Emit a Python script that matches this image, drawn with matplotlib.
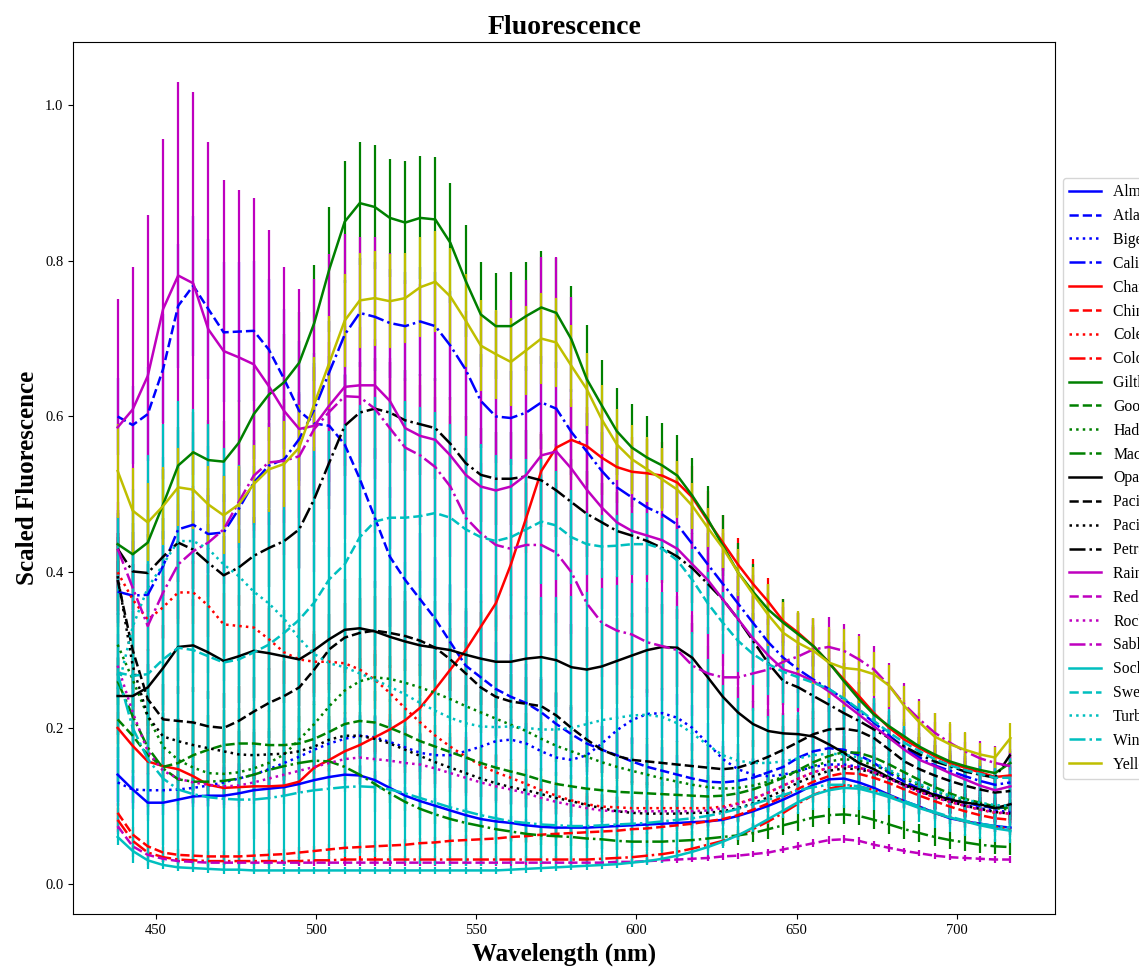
import numpy as np
import matplotlib
matplotlib.use("Agg")
import matplotlib.pyplot as plt

plt.rcParams['font.family'] = ['Liberation Serif', 'DejaVu Serif']

# wavelengths (nm)
wl = [438.0, 442.7, 447.4, 452.2, 456.9, 461.6, 466.3, 471.1, 475.8, 480.5,
      485.2, 490.0, 494.7, 499.4, 504.1, 508.9, 513.6, 518.3, 523.0, 527.8,
      532.5, 537.2, 541.9, 546.7, 551.4, 556.1, 560.8, 565.6, 570.3, 575.0,
      579.7, 584.5, 589.2, 593.9, 598.6, 603.4, 608.1, 612.8, 617.5, 622.3,
      627.0, 631.7, 636.4, 641.2, 645.9, 650.6, 655.3, 660.1, 664.8, 669.5,
      674.2, 679.0, 683.7, 688.4, 693.1, 697.9, 702.6, 707.3, 712.0, 716.8]

names = ['Almaco Jack', 'Atlantic Salmon', 'Bigeye Tuna', 'California Halibut',
         'Channel Catfish', 'Chinook Salmon', 'Coley', 'Colorado Trout',
         'Gilthead Bream', 'Goosefish', 'Haddock', 'Mackerel',
         'Opah', 'Pacific Cod', 'Pacific Halibut', 'Petrale Sole',
         'Rainbow Trout', 'Red Snapper', 'Rockfish', 'Sablefish',
         'Sockeye Salmon', 'Sweetlips', 'Turbot', 'Winter Flounder', 'Yellowfin Tuna']

alm = [.140,.121,.104,.104,.108,.112,.113,.113,.116,.120,
       .122,.124,.128,.133,.137,.140,.139,.133,.123,.113,
       .106,.100,.094,.088,.083,.080,.078,.075,.073,.072,
       .072,.072,.073,.074,.075,.076,.077,.078,.079,.080,
       .082,.087,.093,.100,.108,.117,.127,.134,.135,.130,
       .123,.114,.106,.099,.091,.084,.080,.077,.074,.072]
alm_err = [.035,.017,.016,.016,.015,.014,.013,.012,.012,.012,
           .012,.012,.012,.012,.012,.012,.012,.012,.011,.011,
           .010,.010,.010,.009,.009,.009,.009,.008,.008,.008,
           .008,.008,.008,.008,.008,.008,.008,.008,.008,.008,
           .008,.008,.009,.009,.010,.010,.011,.011,.011,.011,
           .010,.010,.009,.009,.008,.008,.008,.007,.007,.007]

atl = [.600,.589,.603,.661,.742,.768,.738,.708,.709,.710,
       .686,.648,.607,.591,.588,.564,.520,.470,.420,.390,
       .365,.340,.310,.280,.265,.250,.240,.232,.220,.205,
       .192,.180,.172,.165,.157,.150,.145,.140,.135,.131,
       .130,.132,.136,.143,.150,.162,.170,.174,.172,.165,
       .155,.142,.131,.122,.115,.109,.104,.100,.097,.098]
atl_err = [.050,.050,.060,.070,.080,.090,.090,.090,.090,.090,
           .090,.090,.090,.090,.090,.090,.090,.090,.090,.090,
           .085,.080,.075,.070,.065,.060,.055,.050,.045,.040,
           .035,.030,.030,.030,.030,.030,.030,.025,.025,.025,
           .025,.025,.025,.025,.025,.025,.025,.025,.025,.025,
           .020,.020,.020,.020,.020,.020,.020,.020,.020,.020]

big = [.130,.121,.120,.120,.121,.123,.126,.130,.135,.140,
       .147,.155,.163,.172,.180,.186,.190,.188,.182,.175,
       .168,.165,.165,.170,.176,.183,.185,.180,.170,.162,
       .159,.165,.180,.197,.210,.218,.219,.213,.200,.180,
       .160,.147,.140,.138,.140,.145,.150,.153,.153,.150,
       .143,.135,.126,.118,.112,.106,.101,.097,.094,.092]
big_err = [.030,.025,.022,.020,.020,.020,.020,.020,.020,.021,
           .022,.023,.024,.025,.026,.027,.027,.027,.026,.025,
           .024,.024,.024,.025,.026,.027,.027,.026,.025,.024,
           .024,.025,.027,.029,.031,.032,.032,.031,.029,.026,
           .023,.021,.020,.019,.020,.020,.021,.021,.021,.021,
           .020,.019,.018,.017,.016,.015,.014,.014,.013,.013]

cal = [.375,.370,.371,.408,.455,.461,.449,.451,.481,.515,
       .537,.545,.571,.609,.657,.705,.733,.728,.720,.716,
       .722,.716,.691,.660,.620,.600,.598,.605,.618,.610,
       .580,.555,.530,.509,.496,.483,.474,.461,.436,.410,
       .385,.360,.335,.310,.290,.275,.262,.250,.237,.222,
       .207,.190,.175,.162,.152,.145,.138,.132,.127,.130]
cal_err = [.040,.040,.040,.045,.050,.050,.050,.050,.050,.055,
           .055,.055,.060,.060,.065,.070,.070,.070,.070,.070,
           .070,.070,.070,.065,.060,.060,.060,.060,.060,.060,
           .055,.050,.050,.050,.045,.045,.045,.045,.040,.040,
           .040,.035,.035,.030,.030,.030,.030,.030,.025,.025,
           .025,.020,.020,.020,.020,.020,.020,.020,.020,.020]

cha = [.200,.177,.157,.151,.147,.138,.127,.123,.124,.125,
       .125,.126,.131,.149,.159,.170,.178,.188,.198,.210,
       .226,.250,.275,.300,.330,.360,.410,.470,.530,.560,
       .570,.562,.547,.535,.529,.527,.524,.515,.496,.466,
       .438,.410,.385,.362,.337,.322,.305,.284,.262,.241,
       .219,.200,.185,.174,.164,.155,.149,.143,.137,.139]
cha_err = [.020,.018,.016,.015,.015,.014,.013,.013,.013,.013,
           .013,.013,.014,.015,.016,.017,.018,.019,.020,.021,
           .023,.025,.028,.030,.033,.036,.040,.045,.050,.052,
           .052,.050,.048,.046,.045,.044,.043,.042,.040,.038,
           .036,.034,.032,.030,.028,.026,.025,.023,.021,.020,
           .018,.017,.016,.015,.014,.013,.013,.012,.012,.012]

chi = [.091,.063,.048,.040,.037,.036,.035,.035,.035,.036,
       .037,.038,.040,.042,.044,.046,.047,.048,.049,.050,
       .052,.053,.055,.056,.057,.058,.060,.061,.063,.064,
       .065,.066,.067,.068,.070,.071,.073,.075,.077,.080,
       .083,.088,.095,.103,.112,.122,.131,.138,.142,.141,
       .136,.129,.121,.113,.106,.099,.093,.088,.084,.082]
chi_err = [.012,.010,.008,.007,.007,.007,.007,.007,.007,.007,
           .007,.007,.007,.007,.007,.007,.007,.007,.007,.007,
           .007,.007,.007,.007,.007,.007,.007,.007,.007,.007,
           .007,.007,.007,.007,.007,.007,.007,.007,.007,.007,
           .007,.007,.008,.008,.008,.009,.009,.009,.009,.009,
           .009,.008,.008,.008,.007,.007,.007,.007,.006,.006]

col1 = [.400,.365,.339,.355,.374,.374,.357,.333,.331,.329,
        .314,.297,.288,.285,.285,.283,.275,.262,.245,.225,
        .207,.190,.176,.163,.152,.143,.136,.128,.120,.113,
        .107,.102,.099,.098,.097,.097,.097,.097,.097,.097,
        .099,.103,.109,.117,.126,.135,.143,.149,.151,.149,
        .143,.135,.126,.118,.111,.105,.100,.095,.091,.090]
col1_err = [.050,.045,.040,.040,.040,.040,.040,.040,.040,.040,
            .040,.040,.040,.040,.040,.040,.040,.038,.036,.034,
            .032,.030,.028,.026,.024,.022,.020,.019,.018,.017,
            .016,.015,.015,.015,.015,.015,.015,.015,.015,.015,
            .015,.015,.016,.017,.018,.019,.020,.020,.020,.020,
            .019,.018,.017,.016,.015,.014,.013,.013,.012,.012]

col2 = [.082,.055,.040,.034,.031,.030,.029,.029,.029,.029,
        .029,.029,.029,.030,.030,.031,.031,.031,.031,.031,
        .031,.031,.031,.031,.031,.031,.031,.031,.031,.031,
        .031,.031,.032,.033,.034,.036,.038,.041,.045,.050,
        .055,.062,.070,.080,.091,.103,.114,.122,.126,.125,
        .120,.113,.105,.098,.091,.085,.080,.076,.073,.070]
col2_err = [.015,.010,.007,.006,.006,.005,.005,.005,.005,.005,
            .005,.005,.005,.005,.005,.005,.005,.005,.005,.005,
            .005,.005,.005,.005,.005,.005,.005,.005,.005,.005,
            .005,.005,.005,.005,.005,.005,.005,.006,.006,.006,
            .007,.007,.008,.008,.009,.009,.010,.010,.010,.010,
            .010,.009,.009,.008,.008,.008,.007,.007,.007,.007]

gilt = [.436,.423,.438,.487,.537,.554,.544,.542,.566,.603,
        .628,.644,.669,.720,.789,.850,.874,.869,.855,.849,
        .855,.853,.823,.774,.731,.716,.716,.729,.740,.733,
        .699,.648,.614,.581,.560,.547,.537,.524,.498,.468,
        .434,.400,.375,.352,.335,.320,.305,.284,.260,.237,
        .217,.202,.189,.176,.166,.157,.151,.146,.142,.155]
gilt_err = [.040,.040,.042,.045,.050,.052,.052,.052,.055,.058,
            .060,.062,.065,.075,.080,.078,.079,.080,.076,.079,
            .079,.080,.077,.072,.067,.068,.069,.070,.072,.071,
            .068,.070,.058,.056,.056,.054,.054,.052,.049,.043,
            .039,.038,.035,.033,.030,.028,.027,.026,.024,.022,
            .021,.020,.019,.018,.017,.016,.016,.015,.015,.016]

goo = [.211,.190,.165,.150,.155,.165,.172,.178,.180,.180,
       .178,.178,.180,.186,.195,.205,.209,.207,.200,.192,
       .183,.176,.169,.162,.155,.149,.144,.139,.133,.128,
       .125,.122,.120,.118,.117,.116,.115,.114,.113,.112,
       .113,.116,.121,.128,.136,.146,.156,.164,.169,.168,
       .162,.153,.143,.133,.124,.116,.109,.104,.099,.097]
goo_err = [.050,.048,.046,.045,.045,.045,.045,.045,.045,.045,
           .045,.045,.045,.045,.045,.044,.042,.040,.037,.034,
           .031,.028,.025,.022,.020,.018,.016,.015,.015,.015,
           .015,.015,.015,.015,.015,.015,.015,.015,.015,.015,
           .015,.015,.015,.015,.015,.015,.015,.015,.015,.015,
           .015,.014,.014,.013,.013,.012,.012,.012,.012,.012]

had = [.307,.262,.215,.176,.159,.149,.142,.141,.143,.148,
       .155,.166,.185,.205,.228,.248,.260,.265,.263,.258,
       .252,.245,.237,.228,.220,.212,.204,.196,.186,.177,
       .170,.163,.156,.150,.145,.140,.135,.131,.127,.124,
       .122,.123,.126,.131,.137,.144,.151,.157,.160,.158,
       .152,.144,.135,.126,.119,.112,.106,.101,.097,.095]
had_err = [.040,.035,.030,.030,.030,.030,.030,.030,.030,.030,
           .030,.030,.030,.030,.030,.030,.030,.030,.030,.030,
           .030,.030,.028,.027,.026,.025,.024,.023,.022,.021,
           .020,.020,.019,.018,.018,.017,.017,.016,.016,.016,
           .016,.016,.016,.016,.017,.017,.018,.018,.018,.018,
           .017,.017,.016,.015,.015,.014,.014,.013,.013,.013]

ma = [.260,.215,.175,.148,.134,.131,.131,.132,.135,.140,
      .146,.151,.155,.158,.157,.150,.140,.128,.116,.105,
      .096,.089,.083,.078,.074,.070,.067,.064,.062,.061,
      .060,.058,.057,.055,.054,.054,.054,.055,.056,.058,
      .060,.062,.065,.070,.075,.080,.085,.088,.089,.087,
      .082,.076,.070,.065,.060,.056,.053,.050,.048,.047]
ma_err = [.030,.025,.020,.015,.013,.012,.012,.012,.012,.012,
          .012,.012,.012,.012,.012,.012,.012,.012,.012,.012,
          .012,.012,.012,.012,.012,.012,.012,.012,.012,.012,
          .012,.012,.012,.012,.012,.012,.012,.012,.012,.012,
          .012,.012,.012,.012,.012,.012,.012,.012,.012,.012,
          .012,.012,.012,.011,.011,.011,.011,.010,.010,.010]

opa = [.241,.241,.252,.277,.304,.306,.297,.286,.292,.299,
       .296,.292,.288,.300,.314,.326,.328,.324,.317,.311,
       .306,.303,.300,.294,.289,.285,.285,.289,.291,.287,
       .278,.275,.279,.286,.293,.300,.304,.303,.290,.265,
       .240,.220,.205,.196,.193,.192,.189,.179,.168,.155,
       .147,.136,.127,.121,.114,.108,.104,.102,.097,.102]
opa_err = [.050,.050,.050,.055,.060,.060,.060,.060,.060,.060,
           .060,.060,.060,.060,.065,.065,.065,.065,.065,.065,
           .065,.060,.060,.060,.060,.060,.060,.060,.060,.060,
           .055,.055,.055,.055,.055,.055,.055,.050,.045,.040,
           .035,.032,.030,.028,.026,.025,.024,.023,.022,.021,
           .020,.020,.019,.019,.018,.018,.018,.018,.018,.020]

pac = [.390,.300,.237,.211,.209,.207,.202,.200,.209,.221,
       .232,.241,.252,.275,.301,.316,.322,.325,.322,.318,
       .312,.303,.288,.270,.252,.240,.234,.231,.228,.216,
       .200,.185,.172,.164,.159,.157,.155,.153,.151,.149,
       .147,.149,.155,.163,.172,.182,.192,.198,.199,.196,
       .187,.172,.157,.147,.139,.132,.126,.121,.117,.119]
pac_err = [.060,.050,.045,.045,.045,.045,.045,.045,.045,.045,
           .045,.045,.045,.045,.045,.045,.045,.045,.045,.045,
           .045,.040,.040,.040,.035,.035,.035,.035,.035,.030,
           .030,.030,.030,.030,.030,.030,.030,.030,.030,.030,
           .030,.030,.030,.030,.030,.030,.030,.030,.030,.030,
           .025,.025,.020,.020,.020,.020,.020,.020,.020,.020]

pac2 = [.395,.280,.215,.189,.183,.178,.174,.170,.166,.165,
        .166,.167,.170,.176,.185,.190,.190,.186,.180,.172,
        .164,.156,.149,.142,.135,.129,.124,.120,.115,.110,
        .106,.101,.097,.093,.091,.090,.090,.090,.091,.091,
        .093,.097,.103,.111,.120,.130,.138,.145,.148,.147,
        .142,.135,.127,.119,.112,.106,.100,.096,.092,.090]
pac2_err = [.050,.040,.030,.030,.030,.030,.030,.030,.030,.030,
            .030,.030,.030,.030,.030,.030,.030,.030,.030,.030,
            .030,.028,.026,.025,.024,.023,.022,.021,.020,.020,
            .020,.019,.018,.018,.017,.017,.017,.017,.017,.017,
            .017,.018,.018,.019,.020,.021,.022,.022,.022,.022,
            .021,.020,.019,.018,.017,.016,.016,.015,.015,.015]

petr = [.430,.401,.399,.420,.438,.429,.412,.396,.406,.421,
        .431,.440,.455,.494,.541,.588,.605,.610,.605,.595,
        .590,.585,.565,.540,.525,.520,.520,.523,.518,.505,
        .490,.475,.464,.453,.447,.440,.431,.420,.405,.385,
        .365,.340,.312,.283,.260,.252,.241,.230,.219,.209,
        .198,.187,.176,.166,.157,.151,.144,.140,.136,.166]
petr_err = [.050,.050,.050,.050,.050,.050,.050,.050,.050,.050,
            .050,.050,.050,.055,.060,.065,.065,.065,.065,.065,
            .065,.065,.060,.060,.060,.060,.060,.060,.060,.060,
            .055,.055,.050,.050,.050,.050,.045,.045,.045,.040,
            .040,.035,.035,.030,.030,.030,.030,.028,.027,.026,
            .025,.024,.023,.022,.021,.020,.020,.019,.019,.020]

rai = [.586,.609,.652,.738,.781,.771,.712,.684,.676,.667,
       .639,.607,.584,.588,.614,.638,.640,.640,.620,.585,
       .575,.570,.550,.525,.510,.505,.510,.525,.550,.555,
       .533,.506,.483,.464,.453,.447,.441,.430,.410,.390,
       .365,.340,.315,.293,.275,.269,.260,.247,.232,.217,
       .202,.187,.172,.159,.151,.142,.134,.126,.120,.125]
rai_err = [.165,.183,.207,.218,.249,.246,.241,.220,.215,.214,
           .201,.185,.180,.188,.194,.196,.190,.190,.190,.190,
           .195,.200,.205,.210,.220,.230,.240,.250,.255,.250,
           .220,.150,.130,.120,.110,.100,.095,.090,.090,.085,
           .085,.085,.082,.080,.080,.080,.080,.080,.078,.075,
           .072,.068,.064,.060,.056,.052,.048,.045,.042,.040]

red = [.074,.048,.037,.032,.029,.028,.027,.027,.027,.027,
       .027,.027,.027,.027,.027,.027,.027,.027,.027,.027,
       .027,.027,.027,.027,.027,.027,.027,.027,.027,.027,
       .027,.027,.027,.028,.028,.029,.030,.031,.032,.033,
       .035,.036,.038,.040,.044,.048,.052,.056,.057,.055,
       .050,.046,.042,.039,.036,.034,.033,.032,.031,.031]
red_err = [.010,.006,.005,.004,.004,.004,.004,.004,.004,.004,
           .004,.004,.004,.004,.004,.004,.004,.004,.004,.004,
           .004,.004,.004,.004,.004,.004,.004,.004,.004,.004,
           .004,.004,.004,.004,.004,.004,.004,.004,.004,.004,
           .004,.004,.004,.004,.004,.005,.005,.005,.005,.005,
           .005,.005,.004,.004,.004,.004,.004,.004,.004,.004]

roc = [.280,.220,.170,.145,.135,.130,.127,.125,.126,.130,
       .135,.140,.145,.150,.155,.160,.162,.160,.158,.155,
       .153,.148,.142,.136,.130,.125,.121,.116,.110,.105,
       .101,.097,.094,.093,.093,.093,.093,.093,.093,.094,
       .097,.102,.109,.117,.126,.135,.143,.149,.151,.149,
       .143,.135,.126,.118,.111,.105,.100,.095,.092,.090]
roc_err = [.040,.035,.030,.028,.028,.028,.028,.028,.028,.028,
           .028,.028,.028,.028,.028,.028,.028,.028,.028,.027,
           .026,.025,.024,.023,.022,.021,.020,.019,.018,.017,
           .016,.016,.015,.015,.015,.015,.015,.015,.015,.015,
           .015,.016,.016,.017,.018,.019,.020,.020,.020,.020,
           .019,.018,.017,.016,.015,.014,.014,.013,.013,.013]

sab = [.430,.380,.331,.374,.410,.427,.438,.455,.490,.524,
       .541,.543,.549,.584,.606,.626,.625,.610,.585,.560,
       .550,.535,.510,.470,.450,.435,.430,.435,.435,.425,
       .400,.360,.335,.325,.320,.310,.305,.300,.280,.270,
       .265,.265,.270,.275,.285,.292,.301,.304,.299,.288,
       .275,.254,.230,.211,.194,.181,.170,.161,.155,.151]
sab_err = [.060,.060,.060,.060,.070,.070,.070,.070,.080,.080,
           .080,.080,.080,.080,.090,.090,.090,.090,.090,.090,
           .090,.090,.090,.090,.090,.090,.090,.090,.090,.090,
           .080,.080,.070,.070,.070,.070,.070,.070,.065,.060,
           .055,.050,.048,.045,.042,.040,.040,.038,.035,.032,
           .030,.030,.028,.026,.025,.024,.023,.022,.022,.022]

soc = [.060,.042,.030,.024,.021,.020,.019,.018,.018,.017,
       .017,.017,.017,.017,.017,.017,.017,.017,.017,.017,
       .017,.017,.017,.017,.017,.017,.018,.019,.020,.021,
       .022,.023,.024,.025,.027,.029,.032,.036,.041,.047,
       .054,.062,.072,.083,.094,.105,.114,.120,.123,.122,
       .117,.111,.104,.097,.091,.085,.080,.075,.071,.068]
soc_err = [.010,.008,.006,.005,.005,.005,.005,.005,.005,.005,
           .005,.005,.005,.005,.005,.005,.005,.005,.005,.005,
           .005,.005,.005,.005,.005,.005,.005,.005,.005,.005,
           .005,.005,.005,.005,.005,.005,.005,.005,.005,.005,
           .005,.005,.006,.006,.006,.007,.007,.007,.007,.007,
           .007,.006,.006,.006,.006,.005,.005,.005,.005,.005]

swe = [.271,.267,.269,.288,.303,.300,.292,.284,.288,.297,
       .307,.322,.339,.361,.391,.410,.445,.465,.470,.470,
       .472,.476,.470,.455,.445,.440,.445,.455,.465,.460,
       .445,.436,.433,.434,.436,.436,.430,.415,.390,.360,
       .335,.312,.295,.282,.272,.265,.258,.250,.238,.224,
       .209,.194,.181,.170,.160,.152,.146,.141,.136,.136]
swe_err = [.200,.240,.250,.260,.280,.280,.270,.260,.250,.240,
           .230,.220,.210,.200,.190,.180,.170,.160,.150,.150,
           .140,.130,.120,.120,.120,.110,.100,.090,.080,.070,
           .060,.040,.040,.040,.040,.040,.040,.040,.040,.040,
           .040,.040,.040,.040,.040,.040,.040,.040,.035,.035,
           .030,.030,.030,.030,.025,.025,.025,.025,.025,.025]

tur = [.250,.330,.380,.410,.440,.440,.430,.410,.395,.375,
       .360,.340,.315,.295,.283,.278,.270,.262,.253,.243,
       .232,.222,.213,.206,.202,.201,.202,.200,.198,.198,
       .200,.205,.210,.213,.216,.217,.214,.206,.193,.178,
       .165,.158,.155,.155,.157,.161,.165,.167,.166,.162,
       .155,.146,.137,.128,.120,.113,.108,.104,.101,.100]
tur_err = [.120,.150,.170,.180,.180,.170,.160,.150,.140,.140,
           .140,.140,.140,.140,.150,.160,.160,.170,.170,.170,
           .170,.170,.170,.170,.170,.170,.170,.170,.170,.170,
           .170,.170,.170,.170,.170,.170,.160,.150,.130,.110,
           .090,.080,.070,.060,.060,.060,.060,.060,.050,.050,
           .050,.050,.040,.040,.040,.040,.040,.040,.040,.040]

win = [.270,.200,.160,.135,.121,.115,.111,.109,.108,.108,
       .110,.113,.117,.120,.122,.124,.125,.124,.121,.116,
       .110,.104,.098,.093,.088,.084,.080,.078,.076,.075,
       .074,.074,.075,.076,.077,.078,.080,.082,.084,.087,
       .091,.096,.102,.108,.114,.120,.124,.127,.127,.125,
       .120,.113,.106,.099,.092,.086,.081,.077,.074,.072]
win_err = [.060,.070,.080,.085,.090,.090,.090,.090,.090,.090,
           .090,.090,.090,.090,.090,.090,.090,.090,.090,.090,
           .085,.080,.075,.070,.065,.060,.055,.050,.050,.050,
           .050,.050,.050,.050,.050,.050,.050,.050,.050,.050,
           .045,.040,.035,.030,.030,.030,.030,.030,.030,.030,
           .025,.025,.025,.020,.020,.020,.020,.020,.020,.020]

yel = [.530,.479,.464,.485,.509,.506,.487,.473,.487,.513,
       .532,.539,.560,.616,.669,.723,.749,.752,.748,.752,
       .766,.773,.754,.723,.691,.680,.670,.685,.700,.695,
       .665,.635,.596,.564,.545,.532,.519,.506,.485,.457,
       .431,.400,.372,.345,.322,.309,.299,.284,.277,.275,
       .269,.254,.228,.207,.189,.179,.172,.166,.162,.187]
yel_err = [.060,.055,.050,.050,.050,.050,.050,.050,.050,.050,
           .055,.055,.055,.060,.060,.060,.061,.061,.060,.058,
           .064,.065,.062,.060,.058,.057,.056,.057,.058,.057,
           .053,.047,.044,.046,.044,.042,.041,.037,.030,.025,
           .025,.030,.035,.040,.040,.041,.042,.045,.050,.043,
           .028,.027,.026,.027,.030,.028,.023,.015,.014,.019]

series = [alm, atl, big, cal, cha, chi, col1, col2, gilt, goo, had, ma,
          opa, pac, pac2, petr, rai, red, roc, sab, soc, swe, tur, win, yel]
errors = [alm_err, atl_err, big_err, cal_err, cha_err, chi_err, col1_err, col2_err,
          gilt_err, goo_err, had_err, ma_err, opa_err, pac_err, pac2_err, petr_err,
          rai_err, red_err, roc_err, sab_err, soc_err, swe_err, tur_err, win_err, yel_err]

colors = ['b', 'r', 'g', 'k', 'm', 'c', 'y']
styles = ['-', '--', ':', '-.']

fig = plt.figure(figsize=(11.39, 9.72), dpi=100)
ax = fig.add_axes([0.0641, 0.0597, 0.8622, 0.8971])

for i, (nm, y, e) in enumerate(zip(names, series, errors)):
    c = colors[i // 4]
    ls = styles[i % 4]
    # bars stay under every line, as errorbar() does by default
    ax.errorbar(wl, y, yerr=e, fmt='none', ecolor=c, elinewidth=1.6, capsize=0, zorder=2)
    ax.plot(wl, y, color=c, linestyle=ls, linewidth=1.8, label=nm, zorder=2.1)

ax.set_title('Fluorescence', fontsize=20, fontweight='bold')
ax.set_xlabel('Wavelength (nm)', fontsize=18, fontweight='bold')
ax.set_ylabel('Scaled Fluorescence', fontsize=18, fontweight='bold')
ax.tick_params(labelsize=10.5)
ax.legend(loc='upper left', bbox_to_anchor=(1.0, 0.853), fontsize=11.3)

fig.savefig('out.png', dpi=100)
